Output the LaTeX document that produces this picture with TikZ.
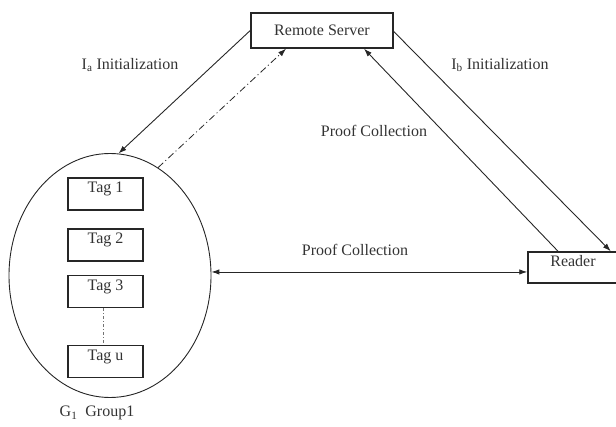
\documentclass[tikz,border=0pt]{standalone}
\usepackage{fontspec}
\setmainfont{Liberation Serif}
\usetikzlibrary{shapes.geometric,arrows.meta}
\begin{document}
\begin{tikzpicture}[x=1pt,y=-1pt,
  every node/.style={font=\fontsize{16}{19}\selectfont, text=black!80},
  boxnode/.style={draw=black!85, line width=1.5pt, rectangle, inner sep=0pt},
  tagbox/.style={boxnode, minimum width=75pt, inner ysep=3pt, text height=12pt, text depth=14pt, minimum height=32pt},
  conn/.style={draw=black!85, line width=0.9pt},
  tip/.style={-{Latex[length=8pt,width=5.5pt]}},
  lbl/.style={inner sep=0pt}
]
\useasboundingbox (0,0) rectangle (616,427);

% Remote server
\node[boxnode, minimum width=142pt, minimum height=35pt] (srv) at (322,30.5) {Remote Server};

% Reader (right edge cut by page)
\node[boxnode, minimum width=90pt, inner ysep=3pt, text height=12pt, text depth=13pt, minimum height=31pt] (rdr) at (573,267.5) {Reader};

% Group ellipse
\node[draw=black!85, line width=0.9pt, ellipse, minimum width=202pt, minimum height=244pt, inner sep=0pt] (grp) at (110,275.5) {};

% Tags
\node[tagbox] (t1) at (105.5,194) {Tag 1};
\node[tagbox] (t2) at (105.5,245) {Tag 2};
\node[tagbox] (t3) at (105.5,291.5) {Tag 3};
\node[tagbox] (tu) at (105.5,361.5) {Tag u};
\draw[draw=black!55, line width=0.8pt, dash pattern=on 3pt off 2pt on 1pt off 2pt] ([xshift=-2pt]t3.south) -- ([xshift=-2pt]tu.north);

% Connectors
\draw[conn, tip] (srv.west) -- (grp.86);
\draw[conn, tip, line width=0.8pt, dash pattern=on 7pt off 3pt on 1pt off 3pt] (grp.66) -- ([xshift=-36pt]srv.south);
\draw[conn, tip] ([yshift=-1pt]srv.east) -- ([xshift=-8pt]rdr.north east);
\draw[conn, tip] ([xshift=-15pt]rdr.north) -- ([xshift=42pt]srv.south);
\draw[conn, {Latex[length=8pt,width=5.5pt]}-{Latex[length=8pt,width=5.5pt]}] (grp.2) -- (grp.2 -| rdr.west);

% Labels
\node[lbl] (la) at (130,65) {I\textsubscript{a} Initialization};
\node[lbl] (lb) at (500,65) {I\textsubscript{b} Initialization};
\node[lbl] (lpc1) at (374,131) {Proof Collection};
\node[lbl] (lpc2) at (355,250) {Proof Collection};
\node[lbl] (lg) at (97,413) {G\textsubscript{1}\ \ Group1};
\end{tikzpicture}
\end{document}
